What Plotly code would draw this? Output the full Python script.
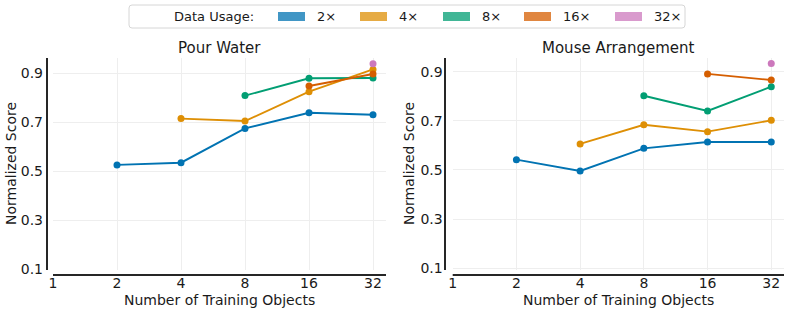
import plotly.graph_objects as go
import math

W, H = 789, 314

# ---------------- data ----------------
tick_objects = [1, 2, 4, 8, 16, 32]
y_ticks = [0.1, 0.3, 0.5, 0.7, 0.9]
usage_labels = ["2×", "4×", "8×", "16×", "32×"]
line_colors = ["#0173b2", "#de8f05", "#029e73", "#d55e00", "#cc78bc"]
patch_colors = ["rgba(1,115,178,0.75)", "rgba(222,143,5,0.75)", "rgba(2,158,115,0.75)",
                "rgba(213,94,0,0.75)", "rgba(204,120,188,0.75)"]

pour_x_2 = [2, 4, 8, 16, 32]
pour_y_2 = [0.526, 0.535, 0.675, 0.739, 0.731]
pour_x_4 = [4, 8, 16, 32]
pour_y_4 = [0.715, 0.705, 0.825, 0.916]
pour_x_8 = [8, 16, 32]
pour_y_8 = [0.809, 0.880, 0.881]
pour_x_16 = [16, 32]
pour_y_16 = [0.848, 0.897]
pour_x_32 = [32]
pour_y_32 = [0.939]

mouse_x_2 = [2, 4, 8, 16, 32]
mouse_y_2 = [0.542, 0.496, 0.588, 0.614, 0.614]
mouse_x_4 = [4, 8, 16, 32]
mouse_y_4 = [0.606, 0.684, 0.656, 0.702]
mouse_x_8 = [8, 16, 32]
mouse_y_8 = [0.802, 0.740, 0.839]
mouse_x_16 = [16, 32]
mouse_y_16 = [0.891, 0.866]
mouse_x_32 = [32]
mouse_y_32 = [0.933]

pour_series = [(pour_x_2, pour_y_2), (pour_x_4, pour_y_4), (pour_x_8, pour_y_8),
               (pour_x_16, pour_y_16), (pour_x_32, pour_y_32)]
mouse_series = [(mouse_x_2, mouse_y_2), (mouse_x_4, mouse_y_4), (mouse_x_8, mouse_y_8),
                (mouse_x_16, mouse_y_16), (mouse_x_32, mouse_y_32)]

titles = ["Pour Water", "Mouse Arrangement"]
x_title = "Number of Training Objects"
y_title = "Normalized Score"
legend_title = "Data Usage:"

# ---------------- helpers ----------------
def fx(px):
    return px / W

def fy(py):
    return 1 - py / H

FONT = "DejaVu Sans"
TXT = "#1a1a1a"
SPINE = "#262626"
GRID = "#eeeeee"

fig = go.Figure()

# panel geometry (pixels)
panels = [
    dict(x0=53, x1=386, y0=58, y1=270, yr=[0.097, 0.9625], xr=[0, 5.203], yspine=47, xspine=275),
    dict(x0=452.7, x1=784, y0=58, y1=270, yr=[0.093, 0.9557], xr=[0, 5.2], yspine=445, xspine=275),
]

for i, (series, p) in enumerate(zip([pour_series, mouse_series], panels)):
    xa = "x" if i == 0 else "x2"
    ya = "y" if i == 0 else "y2"
    for (xs, ys), c, name in zip(series, line_colors, usage_labels):
        fig.add_trace(go.Scatter(
            x=xs, y=ys, mode="lines+markers", name=name, showlegend=False,
            line=dict(color=c, width=1.9), marker=dict(color=c, size=7),
            xaxis=xa, yaxis=ya, cliponaxis=False))

    axis_x = dict(
        type="log", domain=[fx(p["x0"]), fx(p["x1"])],
        range=[p["xr"][0] * math.log10(2), p["xr"][1] * math.log10(2)],
        tickvals=tick_objects, ticktext=[str(t) for t in tick_objects],
        showgrid=True, gridcolor=GRID, gridwidth=1, zeroline=False, showline=False,
        ticks="", ticklabelstandoff=3, automargin=False,
        tickfont=dict(family=FONT, size=14, color=TXT),
        anchor=ya)
    axis_y = dict(
        domain=[fy(p["y1"]), fy(p["y0"])], range=p["yr"],
        tickvals=y_ticks, ticktext=[f"{v:.1f}" for v in y_ticks],
        showgrid=True, gridcolor=GRID, gridwidth=1, zeroline=False, showline=False,
        ticks="", ticklabelstandoff=9, automargin=False,
        tickfont=dict(family=FONT, size=14, color=TXT),
        anchor=xa)
    if i == 0:
        fig.update_layout(xaxis=axis_x, yaxis=axis_y)
    else:
        fig.update_layout(xaxis2=axis_x, yaxis2=axis_y)

    # offset spines
    fig.add_shape(type="line", xref="paper", yref="paper",
                  x0=fx(p["yspine"]), x1=fx(p["yspine"]), y0=fy(p["y0"]), y1=fy(p["y1"]),
                  line=dict(color=SPINE, width=2))
    fig.add_shape(type="line", xref="paper", yref="paper",
                  x0=fx(p["x0"]), x1=fx(p["x1"]), y0=fy(p["xspine"]), y1=fy(p["xspine"]),
                  line=dict(color=SPINE, width=2))

    cx = (p["x0"] + p["x1"]) / 2
    fig.add_annotation(text=titles[i], xref="paper", yref="paper", x=fx(cx), y=fy(48),
                       showarrow=False, xanchor="center", yanchor="middle",
                       font=dict(family=FONT, size=15, color=TXT))
    fig.add_annotation(text=x_title, xref="paper", yref="paper", x=fx(cx), y=fy(300),
                       showarrow=False, xanchor="center", yanchor="middle",
                       font=dict(family=FONT, size=14, color=TXT))
    fig.add_annotation(text=y_title, xref="paper", yref="paper",
                       x=fx(p["yspine"] - 36), y=fy((p["y0"] + p["y1"]) / 2),
                       showarrow=False, xanchor="center", yanchor="middle", textangle=-90,
                       font=dict(family=FONT, size=14, color=TXT))

# ---------------- legend box ----------------
bx0, bx1, by0, by1, r = 129, 685, 5, 28, 3
path = (f"M {fx(bx0 + r)},{fy(by0)} L {fx(bx1 - r)},{fy(by0)} "
        f"Q {fx(bx1)},{fy(by0)} {fx(bx1)},{fy(by0 + r)} L {fx(bx1)},{fy(by1 - r)} "
        f"Q {fx(bx1)},{fy(by1)} {fx(bx1 - r)},{fy(by1)} L {fx(bx0 + r)},{fy(by1)} "
        f"Q {fx(bx0)},{fy(by1)} {fx(bx0)},{fy(by1 - r)} L {fx(bx0)},{fy(by0 + r)} "
        f"Q {fx(bx0)},{fy(by0)} {fx(bx0 + r)},{fy(by0)} Z")
fig.add_shape(type="path", path=path, xref="paper", yref="paper",
              line=dict(color="#d6d6d6", width=1), fillcolor="white")
fig.add_annotation(text=legend_title, xref="paper", yref="paper", x=fx(172), y=fy(16.5),
                   showarrow=False, xanchor="left", yanchor="middle",
                   font=dict(family=FONT, size=13, color=TXT))
patch_x = [278, 360, 443, 524, 615]
for px_, lab, pc in zip(patch_x, usage_labels, patch_colors):
    fig.add_shape(type="rect", xref="paper", yref="paper",
                  x0=fx(px_), x1=fx(px_ + 27), y0=fy(21), y1=fy(12),
                  line=dict(width=0), fillcolor=pc)
    fig.add_annotation(text=lab, xref="paper", yref="paper", x=fx(px_ + 37), y=fy(16.5),
                       showarrow=False, xanchor="left", yanchor="middle",
                       font=dict(family=FONT, size=13, color=TXT))

fig.update_layout(
    width=W, height=H, margin=dict(l=0, r=0, t=0, b=0),
    paper_bgcolor="white", plot_bgcolor="white", showlegend=False,
    font=dict(family=FONT, color=TXT),
)

fig.write_html("out.html", config={"displayModeBar": False},
               post_script="document.body.style.margin='0';")
